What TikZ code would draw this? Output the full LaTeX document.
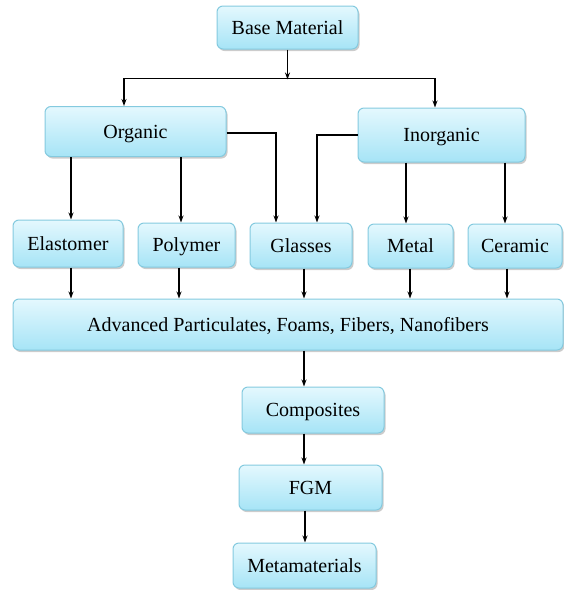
\documentclass[tikz,border=0pt]{standalone}
\usepackage{fontspec}
\setmainfont{Liberation Serif}
\usepackage{tikz}
\usepackage{xcolor}
\usetikzlibrary{
    arrows.meta,
    shadows,
    calc,
    positioning
}
\definecolor{boxtop}{HTML}{E4F8FE}
\definecolor{boxbot}{HTML}{A6E4F6}
\definecolor{boxline}{HTML}{84CADF}
\tikzset{
    matbox/.style={draw=boxline, line width=1pt, rounded corners=6pt,
        top color=boxtop, bottom color=boxbot,
        drop shadow={shadow xshift=1.5pt, shadow yshift=-2pt, fill=black!40, opacity=0.5},
        font=\fontsize{20}{24}\selectfont, inner sep=0pt, text height=15pt, text depth=2pt},
    flow/.style={line width=1.6pt, -{Stealth[length=7pt,width=5pt]}},
    bus/.style={line width=1.6pt}
}

\begin{document}
\begin{tikzpicture}[x=1pt, y=-1pt]
    \useasboundingbox (0, 0) rectangle (564, 590);
    \begin{scope}
        \node[matbox, minimum width=141pt, minimum height=43pt] (base) at (287.5, 27.5) {Base Material};
        \node[matbox, minimum width=181pt, minimum height=50pt] (organic) at (135.5, 131.5) {Organic};
        \node[matbox, minimum width=167pt, minimum height=54pt] (inorganic) at (441.5, 135) {Inorganic};
    \end{scope}
    \begin{scope}
        \node[matbox, minimum width=110pt, minimum height=47pt] (elastomer) at (68, 243.5) {Elastomer};
        \node[matbox, minimum width=97pt, minimum height=44pt] (polymer) at (186.5, 245) {Polymer};
        \node[matbox, minimum width=102pt, minimum height=45pt] (glasses) at (301, 245.5) {Glasses};
        \node[matbox, minimum width=85pt, minimum height=44pt] (metal) at (410.5, 246) {Metal};
        \node[matbox, minimum width=94pt, minimum height=44pt] (ceramic) at (515, 246) {Ceramic};
    \end{scope}
    \begin{scope}
        \node[matbox, minimum width=550pt, minimum height=51pt] (advanced) at (288, 324.5) {Advanced Particulates, Foams, Fibers, Nanofibers};
        \node[matbox, minimum width=142pt, minimum height=46pt] (composites) at (313, 410) {Composites};
        \node[matbox, minimum width=143pt, minimum height=45pt] (fgm) at (310.5, 487.5) {FGM};
        \node[matbox, minimum width=143pt, minimum height=45pt] (meta) at (304.5, 565.5) {Metamaterials};
    \end{scope}
    \coordinate (split) at ($(base.south)+(0,-30pt)$);
    \coordinate (busl) at ($(organic.north)+(-11.5pt,27.5pt)$);
    \coordinate (busr) at ($(inorganic.north)+(-6.5pt,29pt)$);
    \draw[flow] (base.south) -- (split);
    \draw[bus] ([xshift=-0.8pt]busl) -- ([xshift=0.8pt]busr);
    \draw[flow] (busl) -- (busl |- organic.north);
    \draw[flow] (busr) -- (busr |- inorganic.north);
    \draw
    ([xshift=3pt]elastomer.north |- organic.south) edge[flow] ([xshift=3pt]elastomer.north)
    ([xshift=-5.5pt]polymer.north |- organic.south) edge[flow] ([xshift=-5.5pt]polymer.north)
    ([xshift=-4.5pt]metal.north |- inorganic.south) edge[flow] ([xshift=-4.5pt]metal.north)
    ([xshift=-10pt]ceramic.north |- inorganic.south) edge[flow] ([xshift=-10pt]ceramic.north);
    \draw[flow] ([yshift=-1.5pt]organic.east) -| ([xshift=-25pt]glasses.north);
    \draw[flow] (inorganic.west) -| ([xshift=16pt]glasses.north);
    \draw
    ([xshift=3pt]elastomer.south) edge[flow] ([xshift=3pt]elastomer.south |- advanced.north)
    ([xshift=-7.5pt]polymer.south) edge[flow] ([xshift=-7.5pt]polymer.south |- advanced.north)
    ([xshift=3pt]glasses.south) edge[flow] ([xshift=3pt]glasses.south |- advanced.north)
    ([xshift=-0.5pt]metal.south) edge[flow] ([xshift=-0.5pt]metal.south |- advanced.north)
    ([xshift=-8pt]ceramic.south) edge[flow] ([xshift=-8pt]ceramic.south |- advanced.north);
    \draw
    (advanced.south -| 304, 0) edge[flow] (composites.north -| 304, 0)
    (composites.south -| 304, 0) edge[flow] (fgm.north -| 304, 0)
    (fgm.south -| 305, 0) edge[flow] (meta.north -| 305, 0);
\end{tikzpicture}
\end{document}
